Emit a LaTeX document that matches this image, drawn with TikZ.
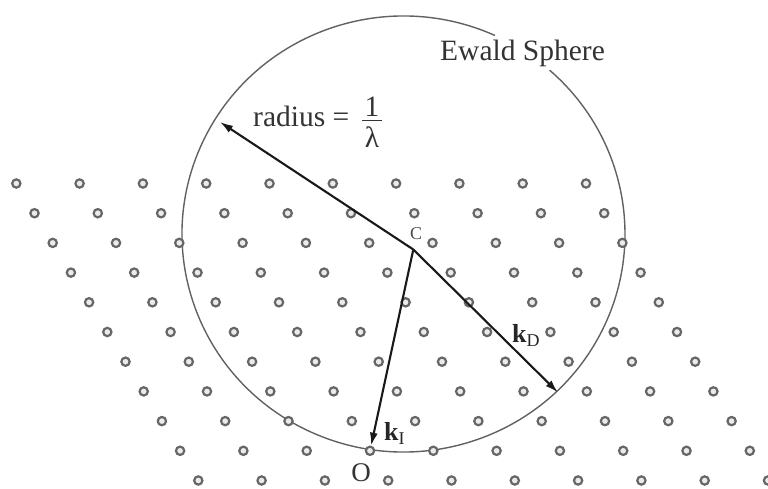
\documentclass[tikz,border=0pt]{standalone}
\usepackage{fontspec}
\setmainfont{Liberation Serif}
\usetikzlibrary{arrows.meta}
\begin{document}
\begin{tikzpicture}[x=1pt,y=1pt,
  latt/.style={circle,draw=black!60,line width=2.2pt,fill=black!8,minimum size=8.3pt,inner sep=0pt},
  sphere/.style={draw=black!62,line width=1.4pt},
  vec/.style={draw=black!90,line width=2.1pt,-{Latex[length=13pt,width=8pt]}},
  big/.style={font=\fontsize{29.5}{31}\selectfont,inner sep=0pt,text=black!80},
  small/.style={font=\fontsize{18}{18}\selectfont,inner sep=0pt,text=black!70},
]
\useasboundingbox (0,0) rectangle (768,-489);
% Ewald sphere (with a gap for its label)
\draw[sphere] (403.5,-234) ++(65.6:221.5pt and 218pt)
  arc[start angle=65.6,end angle=408.7,x radius=221.5pt,y radius=218pt];
% reciprocal lattice
\foreach \i in {0,...,10}{
  \foreach \j in {0,...,9}{
    \node[latt] (d-\i-\j) at ({16.3+18.2*\i+63.3*\j},{-183.5-29.7*\i}) {};
  }
}
% vectors
\coordinate (C) at (413.3,-249.5);
\coordinate (R) at (220,-122);
\coordinate (D) at (558,-392.5);
\draw[vec] (C) -- (R);
\draw[vec] (C) -- (D);
\draw[vec] (C) -- (d-9-3);
% labels
\node[big,anchor=base west] (ewald) at (440,-61) {Ewald Sphere};
\node[big,anchor=base west] (rad) at (253,-127) {radius =};
\node[big,anchor=base] (one) at (372,-117) {1};
\draw[line width=1.2pt,black!80] (362,-120.5) -- (382,-120.5);
\node[big,anchor=base] (lam) at (372,-148) {λ};
\node[small] (clab) at (416,-234) {C};
\node[big,font=\fontsize{27}{28}\selectfont,anchor=base] (olab) at (361,-481.5) {O};
\node[anchor=base west,inner sep=0pt,text=black!85] (kd) at (512,-342)
  {\fontsize{26}{26}\selectfont\textbf{k}\raisebox{-4pt}{\fontsize{18}{18}\selectfont D}};
\node[anchor=base west,inner sep=0pt,text=black!85] (ki) at (384,-440)
  {\fontsize{26}{26}\selectfont\textbf{k}\raisebox{-4pt}{\fontsize{18}{18}\selectfont I}};
\end{tikzpicture}
\end{document}
